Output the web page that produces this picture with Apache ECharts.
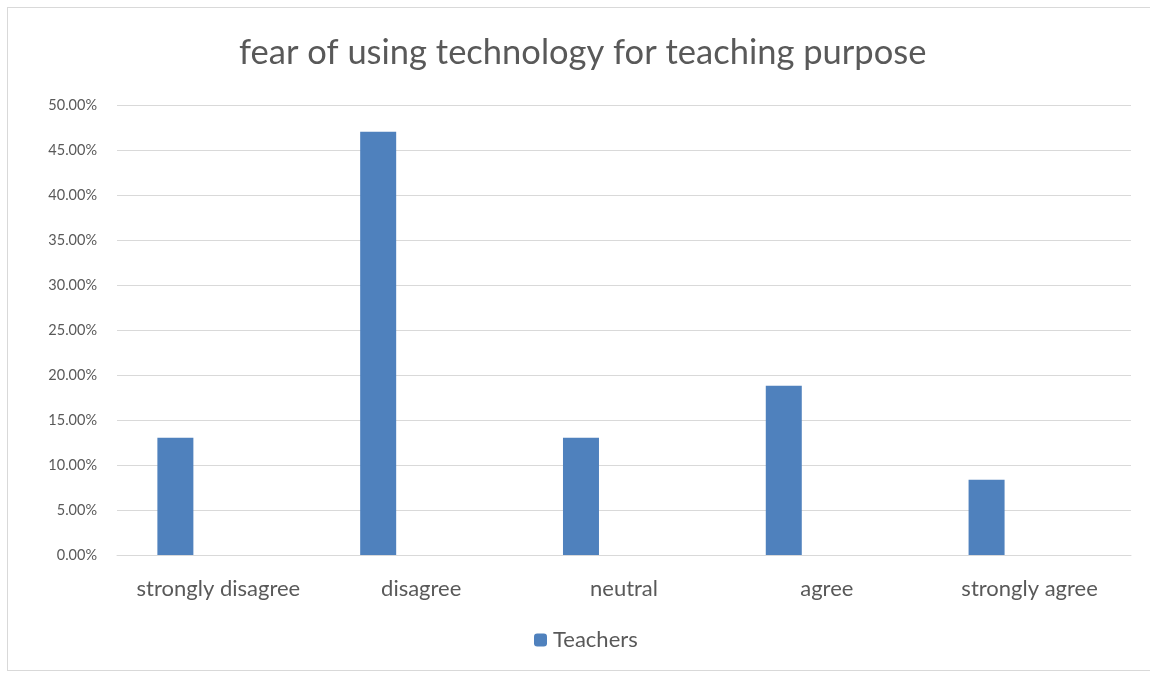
<!DOCTYPE html>
<html>
<head>
<meta charset="utf-8">
<title>fear of using technology for teaching purpose</title>
<script src="https://cdn.jsdelivr.net/npm/echarts@6/dist/echarts.min.js"></script>
<style>
  html, body { margin: 0; padding: 0; background: #fff; }
  #frame {
    position: absolute; left: 7px; top: 7px; width: 1160px; height: 664px;
    border: 1px solid #d9d9d9; box-sizing: border-box;
  }
  #chart { position: absolute; left: 0; top: 0; width: 1150px; height: 675px; }
</style>
</head>
<body>
<div id="frame"></div>
<div id="chart"></div>
<script>
// categories and values (percent)
var categories = ['strongly disagree', 'disagree', 'neutral', 'agree', 'strongly agree'];
var teachers = [13.04, 47.04, 13.04, 18.8, 8.37];
// second (empty) series in the original sheet, keeps bars left of centre
var blank = [null, null, null, null, null];
var yTicks = { min: 0, max: 50, interval: 5 };

var font = 'Lato, "Open Sans", sans-serif';
var myChart = echarts.init(document.getElementById('chart'));

var option = {
  animation: false,
  title: {
    text: 'fear of using technology for teaching purpose',
    left: 234,
    top: 30,
    textStyle: { fontFamily: font, fontSize: 34.5, fontWeight: 'normal', color: '#595959' }
  },
  legend: {
    data: ['Teachers'],
    bottom: 19,
    left: 529,
    itemWidth: 13,
    itemHeight: 13,
    itemGap: 10,
    textStyle: { fontFamily: font, fontSize: 22, color: '#595959', padding: [0, 0, 0, 1] }
  },
  grid: { left: 117, right: 19, top: 105, bottom: 120 },
  xAxis: {
    type: 'category',
    data: categories,
    axisLine: { lineStyle: { color: '#d9d9d9' } },
    axisTick: { show: false },
    axisLabel: { interval: 0, margin: 23, fontFamily: font, fontSize: 22, color: '#595959' }
  },
  yAxis: {
    type: 'value',
    min: yTicks.min,
    max: yTicks.max,
    interval: yTicks.interval,
    axisLine: { show: false },
    axisTick: { show: false },
    splitLine: { lineStyle: { color: '#d9d9d9', width: 1 } },
    axisLabel: {
      margin: 20,
      fontFamily: font, fontSize: 14.5, color: '#595959',
      formatter: function (v) { return v.toFixed(2) + '%'; }
    }
  },
  series: [
    {
      name: 'Teachers',
      type: 'bar',
      data: teachers,
      barWidth: 36,
      barGap: '139%',
      itemStyle: { color: '#4f81bd' }
    },
    {
      name: 'blank',
      type: 'bar',
      data: blank,
      barWidth: 36,
      itemStyle: { color: '#c0504d' }
    }
  ]
};
myChart.setOption(option);
</script>
</body>
</html>
